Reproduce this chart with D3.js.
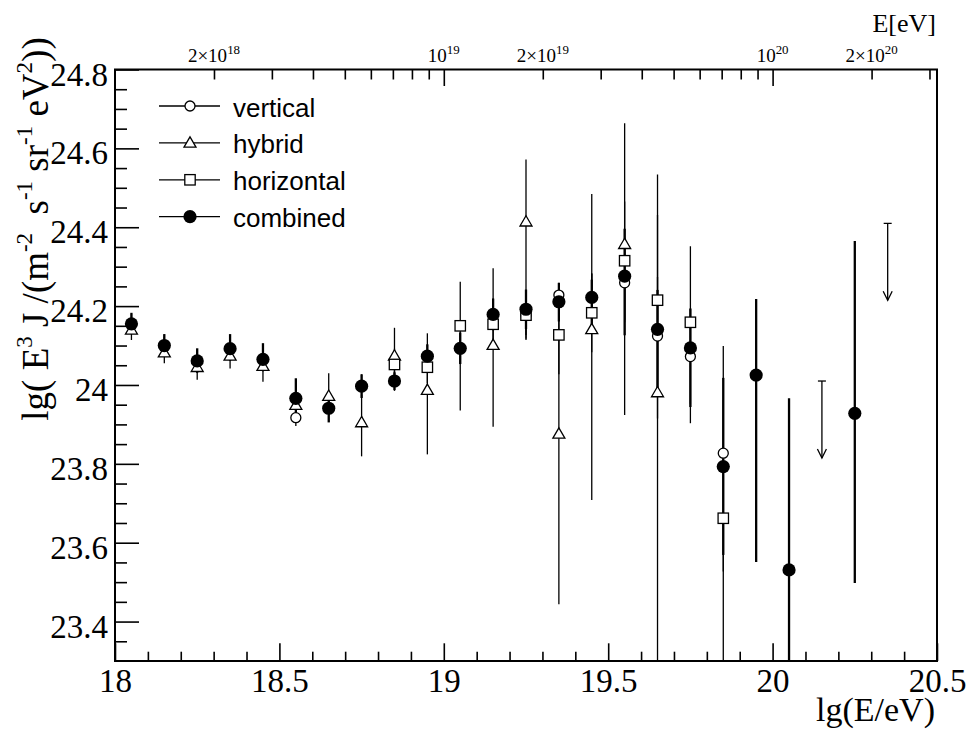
<!DOCTYPE html>
<html lang="en">
<head>
    <meta charset="UTF-8">
    <title>Energy spectrum</title>
    <script src="https://d3js.org/d3.v7.min.js"></script>
    <style>
        body { margin: 0; background: #fff; }
        text { white-space: pre; }
    </style>
</head>
<body>
<div id="chart"></div>
<script>

    // ---- data (lg(E/eV), lg(E^3 J), lower / upper error) ----
    var combinedX  = [18.05, 18.15, 18.25, 18.35, 18.45, 18.55, 18.65, 18.75, 18.85, 18.95, 19.05, 19.15, 19.25, 19.35, 19.45, 19.55, 19.65, 19.75, 19.85, 19.95, 20.05, 20.25];
    var combinedY  = [24.155, 24.100, 24.061, 24.092, 24.065, 23.966, 23.941, 23.997, 24.010, 24.073, 24.093, 24.179, 24.192, 24.211, 24.222, 24.276, 24.141, 24.094, 23.793, 24.025, 23.531, 23.928];
    var combinedLo = [0.025, 0.028, 0.030, 0.030, 0.030, 0.040, 0.036, 0.030, 0.023, 0.030, 0.040, 0.040, 0.050, 0.050, 0.080, 0.150, 0.170, 0.150, 0.224, 0.474, 0.600, 0.430];
    var combinedHi = [0.028, 0.029, 0.032, 0.037, 0.041, 0.051, 0.030, 0.030, 0.022, 0.030, 0.040, 0.040, 0.050, 0.048, 0.045, 0.120, 0.100, 0.100, 0.225, 0.193, 0.435, 0.437];

    var verticalX  = [18.05, 18.15, 18.25, 18.35, 18.45, 18.55, 18.65, 18.75, 18.85, 18.95, 19.05, 19.15, 19.25, 19.35, 19.45, 19.55, 19.65, 19.75, 19.85];
    var verticalY  = [24.155, 24.100, 24.061, 24.092, 24.065, 23.917, 23.941, 23.997, 24.010, 24.073, 24.093, 24.179, 24.177, 24.228, 24.222, 24.259, 24.124, 24.072, 23.827];
    var verticalLo = [0.025, 0.028, 0.030, 0.030, 0.030, 0.021, 0.035, 0.030, 0.025, 0.030, 0.040, 0.040, 0.050, 0.031, 0.060, 0.100, 0.150, 0.120, 0.300];
    var verticalHi = [0.025, 0.028, 0.030, 0.030, 0.030, 0.030, 0.035, 0.030, 0.025, 0.030, 0.040, 0.040, 0.050, 0.031, 0.060, 0.100, 0.150, 0.120, 0.272];

    var hybridX  = [18.05, 18.15, 18.25, 18.35, 18.45, 18.55, 18.65, 18.75, 18.85, 18.95, 19.15, 19.25, 19.35, 19.45, 19.55, 19.65];
    var hybridY  = [24.140, 24.082, 24.045, 24.074, 24.048, 23.949, 23.972, 23.905, 24.074, 23.987, 24.101, 24.414, 23.876, 24.141, 24.357, 23.981];
    var hybridLo = [0.026, 0.027, 0.032, 0.032, 0.040, 0.040, 0.050, 0.086, 0.080, 0.163, 0.207, 0.300, 0.432, 0.433, 0.433, 0.800];
    var hybridHi = [0.030, 0.040, 0.040, 0.040, 0.045, 0.040, 0.058, 0.070, 0.071, 0.144, 0.195, 0.158, 0.300, 0.343, 0.307, 0.450];

    var horizontalX  = [18.85, 18.95, 19.05, 19.15, 19.25, 19.35, 19.45, 19.55, 19.65, 19.75, 19.85];
    var horizontalY  = [24.052, 24.045, 24.150, 24.154, 24.177, 24.127, 24.183, 24.315, 24.215, 24.159, 23.662];
    var horizontalLo = [0.040, 0.040, 0.215, 0.050, 0.060, 0.100, 0.100, 0.150, 0.300, 0.256, 0.500];
    var horizontalHi = [0.040, 0.040, 0.112, 0.050, 0.060, 0.100, 0.100, 0.150, 0.319, 0.193, 0.300];

    // upper limits (combined)
    var limitX = [20.15, 20.35];
    var limitY = [24.010, 24.410];

    var xMajor = [18, 18.5, 19, 19.5, 20, 20.5];
    var yMajor = [23.4, 23.6, 23.8, 24, 24.2, 24.4, 24.6, 24.8];
    // top axis: energies in eV
    var eTicks = [2e18, 3e18, 4e18, 5e18, 6e18, 7e18, 8e18, 9e18, 1e19, 2e19, 3e19, 4e19, 5e19, 6e19, 7e19, 8e19, 9e19, 1e20, 2e20, 3e20];
    var eMajor = [1e19, 1e20];
    var eLabels = [[2e18, "2\u00d710", "18"], [1e19, "10", "19"], [2e19, "2\u00d710", "19"], [1e20, "10", "20"], [2e20, "2\u00d710", "20"]];

    var legendNames = ["vertical", "hybrid", "horizontal", "combined"];

    // ---- layout ----
    var w = 971, h = 734;
    var pLeft = 115, pRight = 937, pTop = 69.5, pBottom = 661;
    var serif = "'Liberation Serif', 'Times New Roman', serif";
    var sans = "'Liberation Sans', Arial, sans-serif";

    var svg = d3.select("#chart").append("svg")
        .attr("width", w).attr("height", h)
        .style("display", "block");

    var x = d3.scaleLinear().domain([18, 20.5]).range([pLeft, pRight]);
    var y = d3.scaleLinear().domain([23.3, 24.8]).range([pBottom, pTop]);

    svg.append("clipPath").attr("id", "plotclip")
        .append("rect").attr("x", pLeft).attr("y", pTop)
        .attr("width", pRight - pLeft).attr("height", pBottom - pTop);

    function styleAxis(g, sw) {
        g.select(".domain").remove();
        g.selectAll("line").attr("stroke", "#000").attr("stroke-width", sw);
    }

    // bottom axis
    var xMinor = d3.range(18.1, 20.5, 0.1).filter(function (v) { return Math.abs(v * 2 - Math.round(v * 2)) > 0.01; });
    svg.append("g").attr("transform", "translate(0," + pBottom + ")")
        .call(d3.axisBottom(x).tickValues(xMinor).tickSize(-9.3).tickFormat(""))
        .call(styleAxis, 1.6);
    svg.append("g").attr("transform", "translate(0," + pBottom + ")")
        .call(d3.axisBottom(x).tickValues(xMajor).tickSize(-17.7).tickPadding(8).tickFormat(d3.format("~g")))
        .call(styleAxis, 1.6)
        .call(function (g) {
            g.selectAll("text").attr("fill", "#000").attr("font-family", serif).attr("font-size", 33);
        });

    // left axis
    var yMinor = d3.range(23.35, 24.8, 0.05).filter(function (v) { return Math.abs(v * 5 - Math.round(v * 5)) > 0.01; });
    svg.append("g").attr("transform", "translate(" + pLeft + ",0)")
        .call(d3.axisLeft(y).tickValues(yMinor).tickSize(-12).tickFormat(""))
        .call(styleAxis, 1.6);
    svg.append("g").attr("transform", "translate(" + pLeft + ",0)")
        .call(d3.axisLeft(y).tickValues(yMajor).tickSize(-24).tickPadding(7).tickFormat(d3.format("~g")))
        .call(styleAxis, 1.6)
        .call(function (g) {
            g.selectAll("text").attr("fill", "#000").attr("font-family", serif).attr("font-size", 33).attr("dy", "0.47em");
        });

    // top axis (energy, log ticks)
    var lg = function (e) { return Math.log10(e); };
    svg.append("g").attr("transform", "translate(0," + pTop + ")")
        .call(d3.axisTop(x).tickValues(eTicks.filter(function (e) { return eMajor.indexOf(e) < 0; }).map(lg)).tickSize(-10).tickFormat(""))
        .call(styleAxis, 1.6);
    svg.append("g").attr("transform", "translate(0," + pTop + ")")
        .call(d3.axisTop(x).tickValues(eMajor.map(lg)).tickSize(-16.5).tickFormat(""))
        .call(styleAxis, 1.6);

    // frame
    svg.append("rect")
        .attr("x", pLeft).attr("y", pTop)
        .attr("width", pRight - pLeft).attr("height", pBottom - pTop)
        .attr("fill", "none").attr("stroke", "#000").attr("stroke-width", 2);

    function rich(sel, parts, fs, supScale, raise) {
        var shift = 0;
        parts.forEach(function (p) {
            var target = p[1] ? -fs * raise : 0;
            sel.append("tspan")
                .attr("dy", target - shift)
                .attr("font-size", p[1] ? fs * supScale : fs)
                .text(p[0]);
            shift = target;
        });
    }

    // top axis labels
    eLabels.forEach(function (d) {
        var t = svg.append("text")
            .attr("x", x(lg(d[0]))).attr("y", 62.3)
            .attr("text-anchor", "middle")
            .attr("font-family", serif).attr("fill", "#000");
        rich(t, [[d[1], false], [d[2], true]], 19, 0.68, 0.42);
    });

    svg.append("text")
        .attr("x", 936).attr("y", 31.5)
        .attr("text-anchor", "end")
        .attr("font-family", serif).attr("font-size", 26)
        .text("E[eV]");

    svg.append("text")
        .attr("x", 935).attr("y", 721)
        .attr("text-anchor", "end")
        .attr("font-family", serif).attr("font-size", 34)
        .text("lg(E/eV)");

    var yt = svg.append("text")
        .attr("transform", "translate(48,229) rotate(-90)")
        .attr("text-anchor", "middle")
        .attr("font-family", serif).attr("fill", "#000");
    rich(yt, [["lg( E", false], ["3", true], [" J /(m", false], ["-2", true], ["  s", false], ["-1", true],
        [" sr", false], ["-1", true], [" eV", false], ["2", true], ["))", false]], 37, 0.62, 0.42);

    // ---- data marks ----
    var series = [
        {name: "vertical",   xs: verticalX,   ys: verticalY,   lo: verticalLo,   hi: verticalHi,   sym: "circle",   sw: 1.3},
        {name: "hybrid",     xs: hybridX,     ys: hybridY,     lo: hybridLo,     hi: hybridHi,     sym: "triangle", sw: 1.3},
        {name: "horizontal", xs: horizontalX, ys: horizontalY, lo: horizontalLo, hi: horizontalHi, sym: "square",   sw: 1.3},
        {name: "combined",   xs: combinedX,   ys: combinedY,   lo: combinedLo,   hi: combinedHi,   sym: "dot",      sw: 2.3}
    ];

    var plot = svg.append("g").attr("clip-path", "url(#plotclip)");

    series.forEach(function (s) {
        var rows = s.xs.map(function (v, i) { return {x: v, y: s.ys[i], lo: s.lo[i], hi: s.hi[i]}; });
        plot.append("g").selectAll("line")
            .data(rows).enter().append("line")
            .attr("x1", function (d) { return x(d.x); })
            .attr("x2", function (d) { return x(d.x); })
            .attr("y1", function (d) { return y(d.y - d.lo); })
            .attr("y2", function (d) { return y(d.y + d.hi); })
            .attr("stroke", "#000").attr("stroke-width", s.sw);
        s.rows = rows;
    });

    var tri = "M0,-6L6,4.3L-6,4.3Z";
    function drawMarker(g, sym, cx, cy) {
        if (sym === "dot") {
            g.append("circle").attr("cx", cx).attr("cy", cy).attr("r", 6.6).attr("fill", "#000");
        } else if (sym === "circle") {
            g.append("circle").attr("cx", cx).attr("cy", cy).attr("r", 5)
                .attr("fill", "#fff").attr("stroke", "#000").attr("stroke-width", 1.3);
        } else if (sym === "triangle") {
            g.append("path").attr("d", tri).attr("transform", "translate(" + cx + "," + cy + ")")
                .attr("fill", "#fff").attr("stroke", "#000").attr("stroke-width", 1.3);
        } else {
            g.append("rect").attr("x", cx - 5.2).attr("y", cy - 5.2).attr("width", 10.4).attr("height", 10.4)
                .attr("fill", "#fff").attr("stroke", "#000").attr("stroke-width", 1.3);
        }
    }

    series.forEach(function (s) {
        var g = plot.append("g");
        s.rows.forEach(function (d) { drawMarker(g, s.sym, x(d.x), y(d.y)); });
    });

    // upper limit arrows
    limitX.forEach(function (v, i) {
        var cx = x(v), y0 = y(limitY[i]), y1 = y0 + 77;
        var g = plot.append("g").attr("stroke", "#000").attr("stroke-width", 1.3).attr("fill", "none");
        g.append("line").attr("x1", cx - 4).attr("x2", cx + 4).attr("y1", y0).attr("y2", y0);
        g.append("line").attr("x1", cx).attr("x2", cx).attr("y1", y0).attr("y2", y1);
        g.append("path").attr("d", "M" + (cx - 4.5) + "," + (y1 - 9) + "L" + cx + "," + y1 + "L" + (cx + 4.5) + "," + (y1 - 9));
    });

    // ---- legend ----
    var legend = svg.append("g");
    legendNames.forEach(function (name, i) {
        var cy = 106 + i * 36.9;
        var s = series.filter(function (d) { return d.name === name; })[0];
        legend.append("line").attr("x1", 159).attr("x2", 220).attr("y1", cy).attr("y2", cy)
            .attr("stroke", "#000").attr("stroke-width", 1.3);
        drawMarker(legend, s.sym, 190, cy);
        legend.append("text").attr("x", 233).attr("y", cy + 10.5)
            .attr("font-family", sans).attr("font-size", 26).attr("fill", "#000")
            .text(name);
    });

</script>
</body>
</html>
